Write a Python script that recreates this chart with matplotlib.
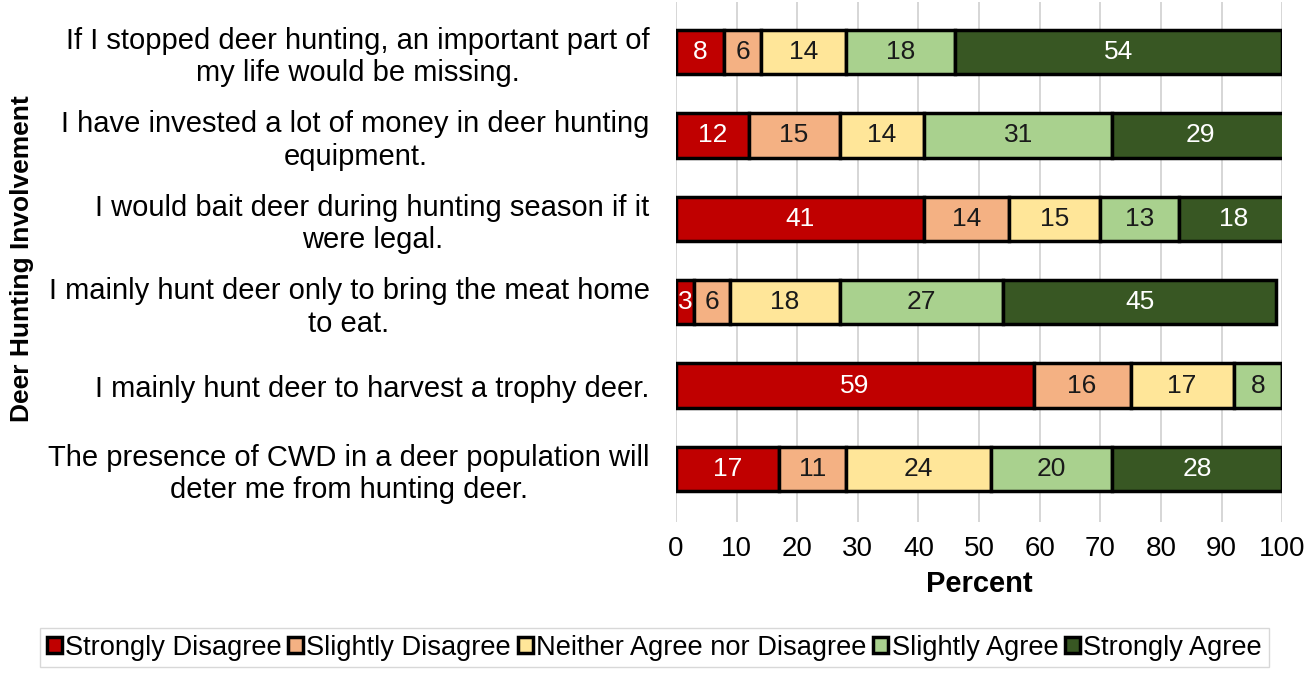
import numpy as np
import matplotlib.pyplot as plt

plt.rcParams['font.family'] = ['Liberation Sans', 'DejaVu Sans']

# Survey statements (top to bottom) and response percentages
statements = [
    "If I stopped deer hunting, an important part of\nmy life would be missing.",
    "I have invested a lot of money in deer hunting\nequipment.",
    "I would bait deer during hunting season if it\nwere legal.",
    "I mainly hunt deer only to bring the meat home\nto eat.",
    "I mainly hunt deer to harvest a trophy deer.",
    "The presence of CWD in a deer population will\ndeter me from hunting deer.",
]
responses = ["Strongly Disagree", "Slightly Disagree", "Neither Agree nor Disagree",
             "Slightly Agree", "Strongly Agree"]
strongly_disagree = [8, 12, 41, 3, 59, 17]
slightly_disagree = [6, 15, 14, 6, 16, 11]
neither = [14, 14, 15, 18, 17, 24]
slightly_agree = [18, 31, 13, 27, 8, 20]
strongly_agree = [54, 29, 18, 45, 0, 28]

series = [strongly_disagree, slightly_disagree, neither, slightly_agree, strongly_agree]
colors = ["#C00000", "#F4B183", "#FFE699", "#A9D18E", "#385723"]
text_colors = ["white", "#1a1a1a", "#1a1a1a", "#1a1a1a", "white"]

fig = plt.figure(figsize=(13.15, 6.73), dpi=100)
ax = fig.add_axes([0.514, 0.224, 0.461, 0.773])

y = np.arange(len(statements))
left = np.zeros(len(statements))
for name, vals, col, tcol in zip(responses, series, colors, text_colors):
    vals = np.array(vals, dtype=float)
    bars = ax.barh(y, vals, left=left, height=0.53, color=col, edgecolor='black',
                   linewidth=2.5, label=name, zorder=3)
    for b, v in zip(bars, vals):
        if v > 0:
            ax.text(b.get_x() + b.get_width() / 2, b.get_y() + b.get_height() / 2,
                    f"{v:.0f}", ha='center', va='center', color=tcol,
                    fontsize=19, zorder=4)
    left += vals

ax.set_xlim(0, 100)
ax.set_ylim(len(statements) - 1 + 0.64, -0.6)
ax.set_xticks(np.arange(0, 101, 10))
ax.set_yticks(y)
ax.set_yticklabels(statements, fontsize=21, ha='right', multialignment='center',
                   linespacing=1.2)
ax.tick_params(axis='y', length=0, pad=19)
ax.tick_params(axis='x', length=0, labelsize=20, pad=10)
ax.grid(axis='x', color='#d0d0d0', linewidth=1.2, zorder=0)
for s in ax.spines.values():
    s.set_visible(False)

ax.set_xlabel("Percent", fontsize=21, fontweight='bold', labelpad=6)
fig.text(0.017, 0.615, "Deer Hunting Involvement", rotation=90, fontsize=19,
         fontweight='bold', ha='center', va='center')

leg = fig.legend(loc='lower center', bbox_to_anchor=(0.4975, -0.012), ncol=5,
                 fontsize=19.6, frameon=True, fancybox=False, edgecolor='#cfcfcf',
                 handlelength=0.55, handleheight=0.55, handletextpad=0.12,
                 columnspacing=0.25, borderpad=0.25)

fig.savefig("out.png", dpi=100)
